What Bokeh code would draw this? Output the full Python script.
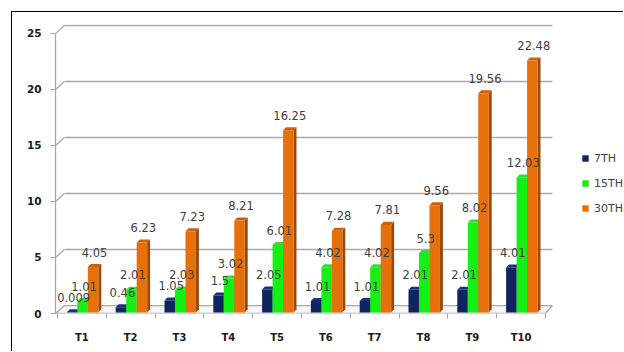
from bokeh.plotting import figure
from bokeh.models import (Range1d, FixedTicker, Legend, LegendItem, ColumnDataSource)
from bokeh.core.properties import value
from bokeh.embed import file_html
from bokeh.resources import INLINE

# ---- data ----
categories = ["T1", "T2", "T3", "T4", "T5", "T6", "T7", "T8", "T9", "T10"]
series_names = ["7TH", "15TH", "30TH"]
day7 = [0.009, 0.46, 1.05, 1.5, 2.05, 1.01, 1.01, 2.01, 2.01, 4.01]
day15 = [1.01, 2.01, 2.03, 3.02, 6.01, 4.02, 4.02, 5.3, 8.02, 12.03]
day30 = [4.05, 6.23, 7.23, 8.21, 16.25, 7.28, 7.81, 9.56, 19.56, 22.48]
label_texts = [
    ["0.009", "0.46", "1.05", "1.5", "2.05", "1.01", "1.01", "2.01", "2.01", "4.01"],
    ["1.01", "2.01", "2.03", "3.02", "6.01", "4.02", "4.02", "5.3", "8.02", "12.03"],
    ["4.05", "6.23", "7.23", "8.21", "16.25", "7.28", "7.81", "9.56", "19.56", "22.48"],
]
y_ticks = [0, 5, 10, 15, 20, 25]

# ---- styles ----
front_colors = ["#0f2460", "#14f014", "#e6700c"]
top_colors = ["#1c3474", "#3ad83a", "#cc600a"]
side_colors = ["#07143a", "#0a9c0a", "#9c4806"]
offsets = [0.30, 0.515, 0.73]
bar_w = 0.215
DX = 0.06   # 3D depth in x units
DY = 0.27   # 3D depth in y units
BASE = 0.1
WX = 0.142  # back wall shift
WY = 0.71

n = len(categories)
PX_PER_CAT = 48.8
W, H = 612, 340
x_start = -0.041
x_end = x_start + (W - 43) / PX_PER_CAT

p = figure(width=W, height=H, output_backend="svg", toolbar_location=None,
           x_range=Range1d(x_start, x_end), y_range=Range1d(0, 25.8),
           min_border_left=43, min_border_right=0, min_border_top=12,
           min_border_bottom=H - 12 - 289)
p.margin = (12, 0, 0, 12)
p.styles = {"box-shadow": "-1px -1px 0px 0px #000000"}
p.outline_line_color = None
p.xgrid.grid_line_color = None
p.ygrid.grid_line_color = None
p.background_fill_color = "white"
p.border_fill_color = "white"

# back wall grid lines and connectors
grid_vals = [v for v in y_ticks if v > 0]
p.segment(x0=[WX] * len(grid_vals), y0=[v + WY for v in grid_vals],
          x1=[n + WX] * len(grid_vals), y1=[v + WY for v in grid_vals],
          line_color="#aaaaaa", line_width=1.6)
p.segment(x0=[x_start] * len(grid_vals), y0=grid_vals,
          x1=[WX] * len(grid_vals), y1=[v + WY for v in grid_vals],
          line_color="#aaaaaa", line_width=1.3)
# floor
p.patch(x=[x_start, n, n + WX, WX], y=[0, 0, WY, WY],
        fill_color="#f6f6f6", line_color="#aaaaaa", line_width=1.3)

# bars
datasets = [day7, day15, day30]
legend_items = []
for s, vals in enumerate(datasets):
    cx = [i + offsets[s] for i in range(n)]
    tops = [v + BASE for v in vals]
    l = [c - bar_w / 2 for c in cx]
    r = [c + bar_w / 2 for c in cx]
    top_xs = [[l[i], r[i], r[i] + DX, l[i] + DX] for i in range(n)]
    top_ys = [[tops[i], tops[i], tops[i] + DY, tops[i] + DY] for i in range(n)]
    side_xs = [[r[i], r[i] + DX, r[i] + DX, r[i]] for i in range(n)]
    side_ys = [[BASE, BASE + DY, tops[i] + DY, tops[i]] for i in range(n)]
    p.patches(xs=top_xs, ys=top_ys, fill_color=top_colors[s], line_color=None)
    p.patches(xs=side_xs, ys=side_ys, fill_color=side_colors[s], line_color=None)
    rr = p.vbar(x=cx, width=bar_w, bottom=BASE, top=tops,
                fill_color=front_colors[s], line_color=None)
    legend_items.append(LegendItem(label=series_names[s], renderers=[rr]))

# labels
for s, vals in enumerate(datasets):
    src = ColumnDataSource(dict(x=[i + offsets[s] + DX / 2 for i in range(n)],
                                y=[v + BASE for v in vals],
                                t=label_texts[s]))
    p.text(x="x", y="y", text="t", source=src, text_align="center",
           text_baseline="middle", y_offset=-15,
           text_font=value("DejaVu Sans"), text_font_size="11.5px",
           text_color="#404040")

# axes
yax = p.yaxis[0]
yax.ticker = FixedTicker(ticks=y_ticks)
yax.bounds = (0, 25)
yax.axis_line_color = "#a6a6a6"
yax.axis_line_width = 1.3
yax.major_tick_line_color = "#a6a6a6"
yax.major_tick_out = 5
yax.major_tick_in = 0
yax.minor_tick_line_color = None
yax.major_label_standoff = 9
yax.major_label_text_font = "DejaVu Sans"
yax.major_label_text_font_style = "bold"
yax.major_label_text_font_size = "10.5px"
yax.major_label_text_color = "#1a1a1a"

xax = p.xaxis[0]
centers = [i + 0.5 for i in range(n)]
xax.ticker = FixedTicker(ticks=centers, minor_ticks=list(range(n + 1)))
xax.major_label_overrides = {c: categories[i] for i, c in enumerate(centers)}
xax.bounds = (x_start, n)
xax.axis_line_color = None
xax.major_tick_line_color = None
xax.major_tick_out = 0
xax.major_tick_in = 0
xax.minor_tick_line_color = "#a6a6a6"
xax.minor_tick_out = 5
xax.minor_tick_in = 0
xax.major_label_standoff = 13
xax.major_label_text_font = "DejaVu Sans"
xax.major_label_text_font_style = "bold"
xax.major_label_text_font_size = "10px"
xax.major_label_text_color = "#1a1a1a"

# legend (frame-relative pixels: glyph left at page x=581)
legend = Legend(items=legend_items, location=(526, 95), orientation="vertical",
                glyph_width=8, glyph_height=8, label_height=20, spacing=5,
                label_standoff=5, padding=0, margin=0,
                border_line_color=None, background_fill_alpha=0,
                label_text_font="DejaVu Sans", label_text_font_size="11px",
                label_text_color="#404040")
p.add_layout(legend, "center")

open("out.html", "w").write(file_html(p, INLINE))
